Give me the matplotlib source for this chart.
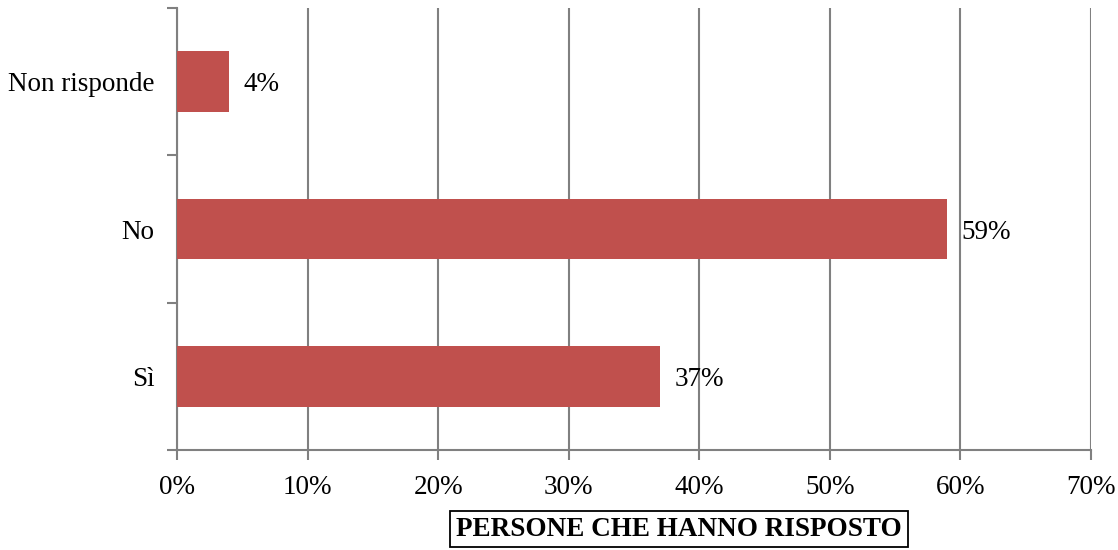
import numpy as np
import matplotlib.pyplot as plt
from matplotlib.ticker import PercentFormatter, FixedLocator

# dati del grafico
categorie = ['Sì', 'No', 'Non risponde']
valori = [37, 59, 4]
etichette = ['37%', '59%', '4%']

plt.rcParams['font.family'] = ['Liberation Serif', 'DejaVu Serif']

fig = plt.figure(figsize=(11.18, 5.5), dpi=100)
ax = fig.add_axes([177 / 1118, 1 - 450 / 550, (1091 - 177) / 1118, (450 - 8) / 550])

y = np.arange(len(categorie))
ax.barh(y, valori, height=0.41, color='#C0504D', zorder=3)

for yi, v, lab in zip(y, valori, etichette):
    ax.text(v + 1.1, yi, lab, va='center_baseline', ha='left', fontsize=19.5, color='black')

ax.set_xlim(0, 70)
ax.set_ylim(-0.5, len(categorie) - 0.5)
ax.set_xticks(np.arange(0, 71, 10))
ax.xaxis.set_major_formatter(PercentFormatter(decimals=0))
ax.set_yticks(y)
ax.set_yticklabels(categorie, va='center_baseline')
# tacche tra le categorie
ax.yaxis.set_minor_locator(FixedLocator(np.arange(-0.5, len(categorie), 1)))
ax.tick_params(axis='y', which='major', length=0, pad=16, labelsize=19.5)
ax.tick_params(axis='y', which='minor', length=7, width=1.5, color='#808080')
ax.tick_params(axis='x', which='major', length=7, width=1.5, color='#808080',
               labelsize=19.5, pad=11)

ax.grid(axis='x', color='#808080', linewidth=1.5, zorder=0)
for s in ['top', 'right']:
    ax.spines[s].set_visible(False)
for s in ['left', 'bottom']:
    ax.spines[s].set_color('#808080')
    ax.spines[s].set_linewidth(1.5)

fig.text(679 / 1118, 1 - 529 / 550, 'PERSONE CHE HANNO RISPOSTO', ha='center', va='center',
         fontsize=19.5, fontweight='bold',
         bbox=dict(boxstyle='square,pad=0.22', facecolor='white', edgecolor='black', linewidth=1.3))

fig.savefig('out.png', dpi=100)
